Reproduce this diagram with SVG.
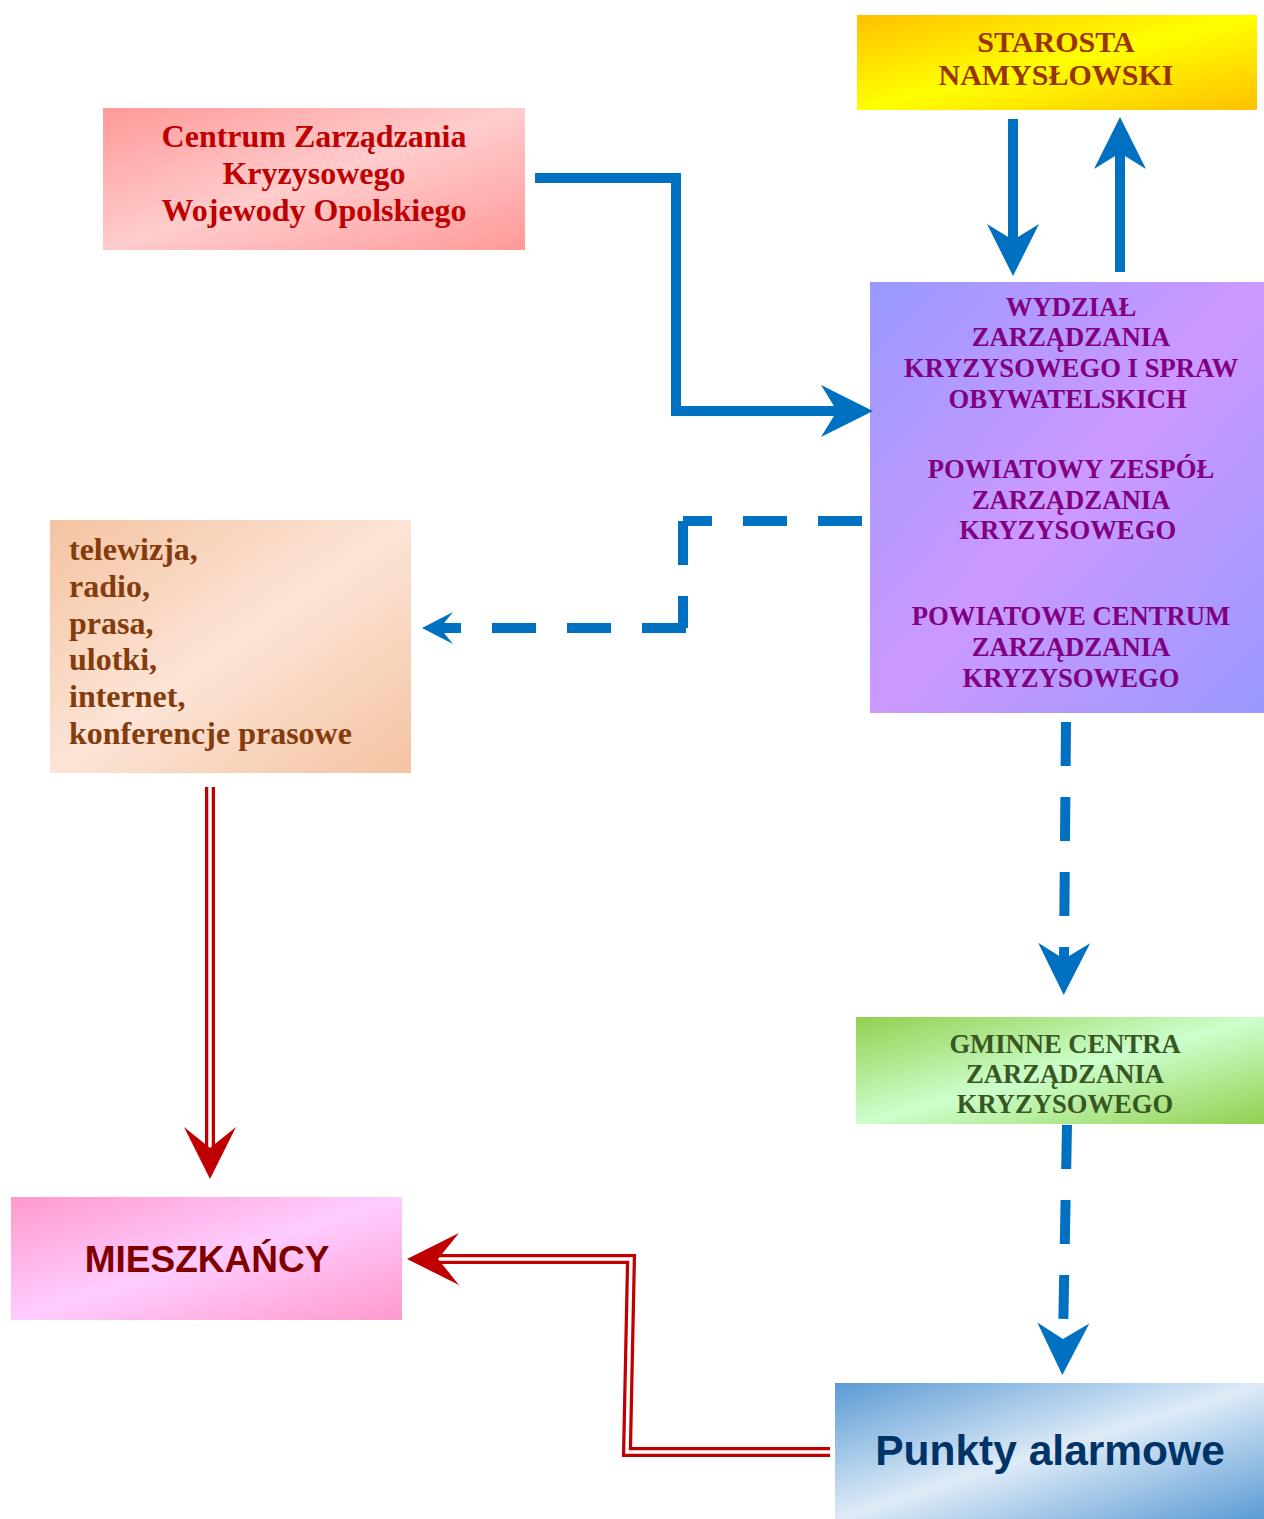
<svg xmlns="http://www.w3.org/2000/svg" width="1264" height="1519" viewBox="0 0 1264 1519">
<style>
.serif{font-family:"Liberation Serif","Times New Roman",serif;font-weight:bold}
.sans{font-family:"Liberation Sans",Arial,sans-serif;font-weight:bold}
.blue{fill:none;stroke:#0070C0;stroke-width:10;stroke-linejoin:miter}
.dash{fill:none;stroke:#0070C0;stroke-width:10;stroke-dasharray:44 31}
.redout{fill:none;stroke:#C00000;stroke-width:10;stroke-linejoin:miter}
.redin{fill:none;stroke:#FFFFFF;stroke-width:3.5;stroke-linejoin:miter}
</style>
<defs>
<linearGradient id="gYel" x1="0" y1="0" x2="1" y2="1"><stop offset="0" stop-color="#FFC000"/><stop offset="0.5" stop-color="#FFFF00"/><stop offset="1" stop-color="#FFC000"/></linearGradient>
<linearGradient id="gRed" x1="0" y1="0" x2="1" y2="1"><stop offset="0" stop-color="#FF9999"/><stop offset="0.5" stop-color="#FFCCCC"/><stop offset="1" stop-color="#FF9999"/></linearGradient>
<linearGradient id="gVio" x1="0" y1="0" x2="1" y2="1"><stop offset="0" stop-color="#9999FF"/><stop offset="0.5" stop-color="#CC99FF"/><stop offset="1" stop-color="#9999FF"/></linearGradient>
<linearGradient id="gPea" x1="0" y1="0" x2="1" y2="1"><stop offset="0" stop-color="#F4C3A1"/><stop offset="0.5" stop-color="#FCE4D6"/><stop offset="1" stop-color="#F4C3A1"/></linearGradient>
<linearGradient id="gGrn" x1="0" y1="0" x2="1" y2="1"><stop offset="0" stop-color="#92D050"/><stop offset="0.5" stop-color="#CCFFCC"/><stop offset="1" stop-color="#92D050"/></linearGradient>
<linearGradient id="gPnk" x1="0" y1="0" x2="1" y2="1"><stop offset="0" stop-color="#FF99CC"/><stop offset="0.5" stop-color="#FFCCFF"/><stop offset="1" stop-color="#FF99CC"/></linearGradient>
<linearGradient id="gBlu" x1="0" y1="0" x2="1" y2="1"><stop offset="0" stop-color="#5B9BD5"/><stop offset="0.5" stop-color="#DEEBF7"/><stop offset="1" stop-color="#5B9BD5"/></linearGradient>
<marker id="aBlue" markerUnits="userSpaceOnUse" orient="auto" refX="0" refY="0" markerWidth="60" markerHeight="60" viewBox="-20 -30 60 60" overflow="visible"><path d="M36,0 L-16,-26 L0,0 L-16,26 Z" fill="#0070C0"/></marker>
<marker id="aBlueS" markerUnits="userSpaceOnUse" orient="auto" refX="0" refY="0" markerWidth="40" markerHeight="40" viewBox="-20 -20 40 40" overflow="visible"><path d="M18,0 L-13,-16 L0,0 L-13,16 Z" fill="#0070C0"/></marker>
<marker id="aRed" markerUnits="userSpaceOnUse" orient="auto" refX="0" refY="0" markerWidth="60" markerHeight="60" viewBox="-20 -30 60 60" overflow="visible"><path d="M31,0 L-21,-26 L0,0 L-21,26 Z" fill="#C00000"/></marker>
</defs>

<g id="starosta">
<rect x="857" y="15" width="400" height="95" fill="url(#gYel)"/>
<text class="serif" font-size="30" fill="#993300" text-anchor="middle"><tspan x="1056" y="52">STAROSTA</tspan><tspan x="1056" y="85">NAMYSŁOWSKI</tspan></text>
</g>

<g id="centrum-wojewody">
<rect x="103" y="108" width="422" height="142" fill="url(#gRed)"/>
<text class="serif" font-size="32" fill="#C00000" text-anchor="middle"><tspan x="314" y="147">Centrum Zarządzania</tspan><tspan x="314" y="184">Kryzysowego</tspan><tspan x="314" y="221">Wojewody Opolskiego</tspan></text>
</g>

<g id="wydzial">
<rect x="870" y="282" width="394" height="431" fill="url(#gVio)"/>
<text class="serif" font-size="26.7" fill="#800080" text-anchor="middle">
<tspan x="1071" y="316">WYDZIAŁ</tspan><tspan x="1071" y="346">ZARZĄDZANIA</tspan><tspan x="1071" y="377">KRYZYSOWEGO I SPRAW</tspan><tspan x="1071" y="408">OBYWATELSKICH</tspan>
<tspan x="1071" y="478">POWIATOWY ZESPÓŁ</tspan><tspan x="1071" y="509">ZARZĄDZANIA</tspan><tspan x="1071" y="539">KRYZYSOWEGO</tspan>
<tspan x="1071" y="625">POWIATOWE CENTRUM</tspan><tspan x="1071" y="656">ZARZĄDZANIA</tspan><tspan x="1071" y="687">KRYZYSOWEGO</tspan>
</text>
</g>

<g id="media">
<rect x="50" y="520" width="361" height="253" fill="url(#gPea)"/>
<text class="serif" font-size="32" fill="#843C0C"><tspan x="69" y="560">telewizja,</tspan><tspan x="69" y="597">radio,</tspan><tspan x="69" y="634">prasa,</tspan><tspan x="69" y="670">ulotki,</tspan><tspan x="69" y="707">internet,</tspan><tspan x="69" y="744">konferencje prasowe</tspan></text>
</g>

<g id="gminne">
<rect x="856" y="1017" width="408" height="107" fill="url(#gGrn)"/>
<text class="serif" font-size="26.6" fill="#385723" text-anchor="middle"><tspan x="1065" y="1053">GMINNE CENTRA</tspan><tspan x="1065" y="1083">ZARZĄDZANIA</tspan><tspan x="1065" y="1113">KRYZYSOWEGO</tspan></text>
</g>

<g id="mieszkancy">
<rect x="11" y="1197" width="391" height="123" fill="url(#gPnk)"/>
<text class="sans" font-size="37" fill="#800000" text-anchor="middle" x="207" y="1272">MIESZKAŃCY</text>
</g>

<g id="punkty">
<rect x="835" y="1383" width="429" height="136" fill="url(#gBlu)"/>
<text class="sans" font-size="42.5" fill="#003366" text-anchor="middle" x="1050" y="1465">Punkty alarmowe</text>
</g>

<g id="connectors">
<path class="blue" d="M535,178 H676 V411 H837" marker-end="url(#aBlue)"/>
<path class="blue" d="M1013,119 V240" marker-end="url(#aBlue)"/>
<path class="blue" d="M1120,272 V153" marker-end="url(#aBlue)"/>
<path class="dash" d="M862,521 H683"/>
<path class="dash" d="M683,521 V628"/>
<path class="dash" d="M686,628 H440" marker-end="url(#aBlueS)"/>
<path class="dash" d="M1066,722 L1064,959" marker-end="url(#aBlue)"/>
<path class="dash" d="M1067,1125 L1063,1339" marker-end="url(#aBlue)"/>
<path class="redout" d="M210,787 V1148"/>
<path class="redin" d="M210,787 V1148" marker-end="url(#aRed)"/>
<path class="redout" d="M830,1452 H627 L631,1259 H438"/>
<path class="redin" d="M830,1452 H627 L631,1259 H438" marker-end="url(#aRed)"/>
</g>
</svg>
